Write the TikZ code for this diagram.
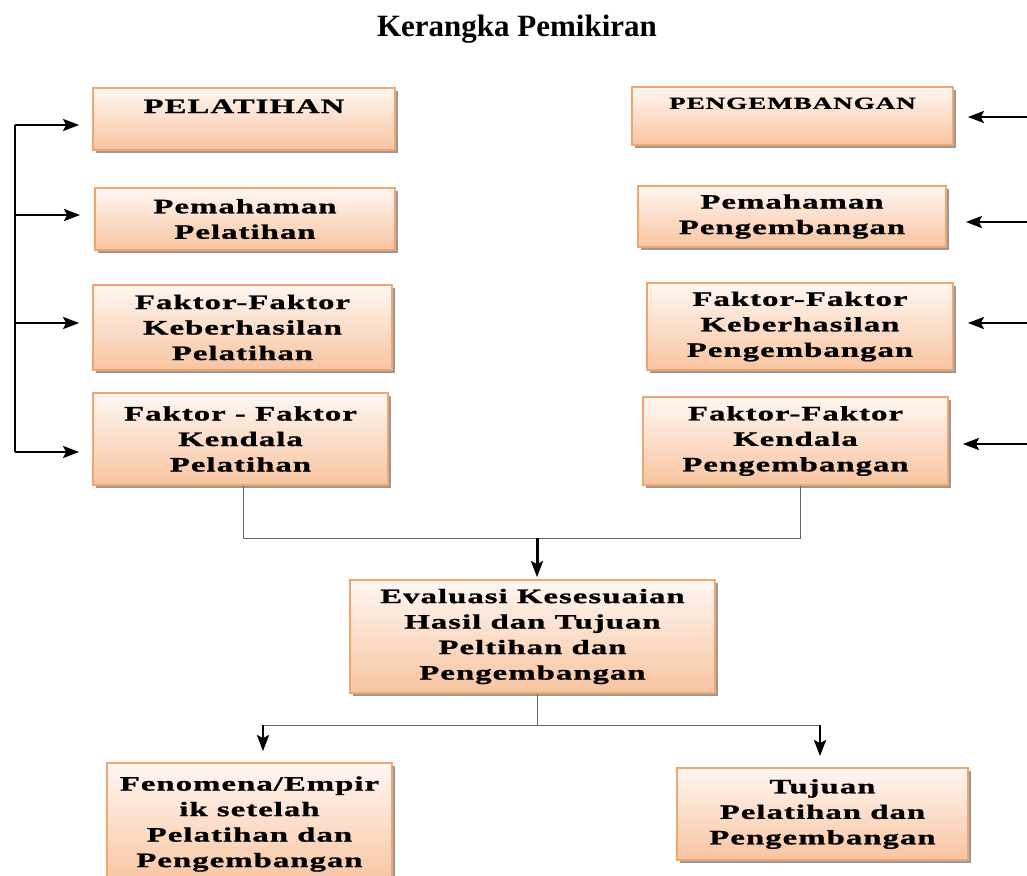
\documentclass[tikz,border=0pt]{standalone}
\usepackage{fontspec}
\setmainfont{Liberation Serif}
\newfontfamily\boxfont[FakeStretch=1.6,LetterSpace=5,FakeBold=1.1]{Liberation Serif}
\usepackage{tikz}
\usetikzlibrary{arrows.meta,shadows,positioning}
\definecolor{peachtop}{HTML}{FFF7F2}
\definecolor{peachbot}{HTML}{F8C4A0}
\definecolor{peachline}{HTML}{F2A66E}

\begin{document}
\begin{tikzpicture}[
    x=1pt, y=-1pt,
    box/.style={rectangle, draw=peachline, line width=1.8pt, top color=peachtop, bottom color=peachbot,
        align=center, inner sep=0pt, font=\boxfont\bfseries\fontsize{20.5}{25.5}\selectfont,
        drop shadow={shadow xshift=3pt, shadow yshift=-3pt, fill=black!40, opacity=1}},
    arrow/.style={-{Stealth[length=16pt,width=12pt,inset=3pt]}, line width=2.2pt},
    link/.style={line width=1pt, draw=black!60}
]
    \useasboundingbox (0,0) rectangle (1027,875);
    \node[font=\bfseries\fontsize{31}{36}\selectfont] (title) at (517,29) {Kerangka Pemikiran};

    % kolom pelatihan
    \node[box, minimum width=302pt, minimum height=62pt] (l1) at (244,119) {PELATIHAN\\\mbox{}};
    \node[box, minimum width=300pt, minimum height=62pt] (l2) at (245,219) {Pemahaman\\Pelatihan};
    \node[box, minimum width=299pt, minimum height=85pt] (l3) at (242.5,327.5) {Faktor-Faktor\\Keberhasilan\\Pelatihan};
    \node[box, minimum width=295pt, minimum height=92pt] (l4) at (240.5,439) {Faktor - Faktor\\Kendala\\Pelatihan};

    % kolom pengembangan
    \node[box, minimum width=321pt, minimum height=58pt, font=\boxfont\bfseries\fontsize{17}{25.5}\selectfont] (r1) at (792.5,116) {PENGEMBANGAN\\\mbox{}};
    \node[box, minimum width=308pt, minimum height=61pt] (r2) at (792,216.5) {Pemahaman\\Pengembangan};
    \node[box, minimum width=306pt, minimum height=87pt] (r3) at (800,326.5) {Faktor-Faktor\\Keberhasilan\\Pengembangan};
    \node[box, minimum width=305pt, minimum height=88pt] (r4) at (795.5,441) {Faktor-Faktor\\Kendala\\Pengembangan};

    \node[box, minimum width=365pt, minimum height=113pt] (eval) at (532.5,636.5) {Evaluasi Kesesuaian\\Hasil dan Tujuan\\Peltihan dan\\Pengembangan};
    \node[box, minimum width=285pt, minimum height=122pt] (fenomena) at (249.5,824) {Fenomena/Empir\\ik setelah\\Pelatihan dan\\Pengembangan};
    \node[box, minimum width=291pt, minimum height=92pt] (tujuan) at (822.5,814) {Tujuan\\Pelatihan dan\\Pengembangan};

    % panah kiri
    \coordinate (lb1) at (15,125);
    \coordinate (lb2) at (15,215);
    \coordinate (lb3) at (15,323);
    \coordinate (lb4) at (15,452);
    \draw[line width=2.6pt] (lb1) -- (lb4);
    \draw[arrow, shorten >=13pt] (lb1) -- (lb1 -| l1.west);
    \draw[arrow, shorten >=14pt] (lb2) -- (lb2 -| l2.west);
    \draw[arrow, shorten >=13pt] (lb3) -- (lb3 -| l3.west);
    \draw[arrow, shorten >=13pt] (lb4) -- (lb4 -| l4.west);

    % panah kanan
    \coordinate (rb1) at (1027,117);
    \coordinate (rb2) at (1027,222);
    \coordinate (rb3) at (1027,323);
    \coordinate (rb4) at (1027,444);
    \draw[arrow, shorten >=14pt] (rb1) -- (rb1 -| r1.east);
    \draw[arrow, shorten >=19pt] (rb2) -- (rb2 -| r2.east);
    \draw[arrow, shorten >=14pt] (rb3) -- (rb3 -| r3.east);
    \draw[arrow, shorten >=14pt] (rb4) -- (rb4 -| r4.east);

    % gabungan ke evaluasi
    \coordinate (jl) at (243,538);
    \coordinate (jr) at (800,538);
    \coordinate (mid) at (537,538);
    \draw[link] (l4.south -| jl) -- (jl) -- (jr) -- (r4.south -| jr);
    \draw[arrow, line width=3pt, shorten >=2pt] (mid) -- (mid |- eval.north);

    % cabang ke bawah
    \coordinate (split) at (537,725);
    \coordinate (sl) at (263,725);
    \coordinate (sr) at (820,725);
    \draw[link] (eval.south -| split) -- (split);
    \draw[link] (sl) -- (sr);
    \draw[arrow, line width=2.8pt, shorten >=11pt] (sl) -- (sl |- fenomena.north);
    \draw[arrow, line width=2.8pt, shorten >=11pt] (sr) -- (sr |- tujuan.north);
\end{tikzpicture}
\end{document}
